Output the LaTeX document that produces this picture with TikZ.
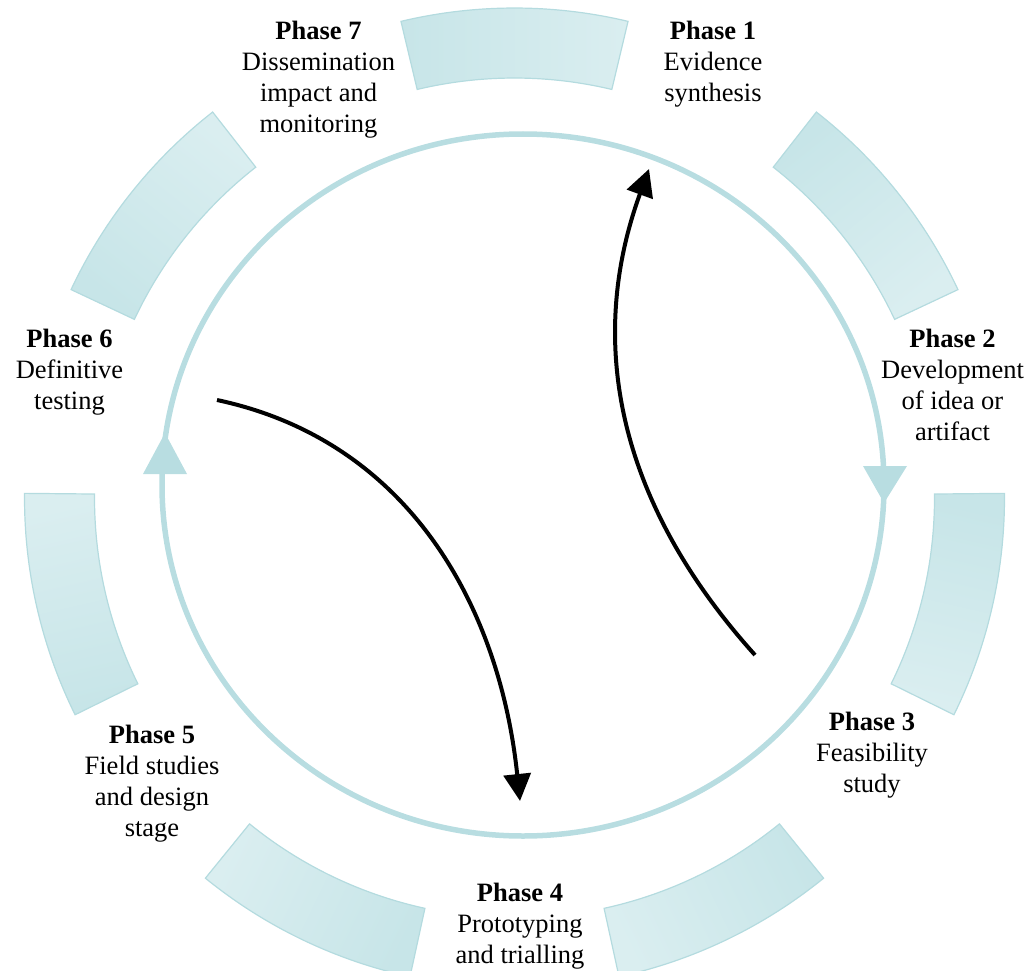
\documentclass[tikz,border=0pt]{standalone}
\usepackage{fontspec}
\setmainfont{Liberation Serif}
\usetikzlibrary{arrows.meta,calc}
\definecolor{ringc}{RGB}{184,221,225}
\definecolor{segdark}{RGB}{199,229,232}
\definecolor{seglight}{RGB}{218,238,240}
\definecolor{segline}{RGB}{180,219,223}
\begin{document}
\begin{tikzpicture}[x=1pt,y=1pt,
  ring/.style={draw=ringc,line width=5.5pt},
  ringtip/.style={fill=ringc},
  seg/.style={draw=segline,line width=1.2pt},
  flow/.style={draw=black,line width=4pt,-{Triangle[width=27pt,length=27pt]}},
  lab/.style={font=\fontsize{26.5}{31}\selectfont,align=center,anchor=north,inner sep=0pt}]
\useasboundingbox (0,0) rectangle (1030,-971);
\clip (0,0) rectangle (1030,-971);
\coordinate (S) at (514.5,-498);
\coordinate (C) at (523,-485);
% segments
\foreach \a in {90,38.571,-12.857,-64.286,-115.714,-167.143,141.429} {
  \path[seg, top color=segdark, bottom color=seglight, shading angle=\a]
    ($(S)+(\a+13.4:490pt)$) arc[start angle=\a+13.4, end angle=\a-13.4, radius=490pt]
    -- ($(S)+(\a-13.4:420pt)$) arc[start angle=\a-13.4, end angle=\a+13.4, radius=420pt] -- cycle;
}
% ring with two arrowheads
\draw[ring] (C) ellipse[x radius=361pt,y radius=351pt];
\fill[ringtip] (863,-466) -- (907,-466) -- (884,-503) -- cycle;
\fill[ringtip] (143,-474) -- (187,-474) -- (165,-433) -- cycle;
% black flow arrows
\coordinate (r0) at (755,-655);
\coordinate (r1) at (649,-169);
\draw[flow] (r0) to[out=132,in=-110,looseness=1.0] (r1);
\coordinate (l0) at (217,-400);
\coordinate (l1) at (520,-801);
\draw[flow] (l0) to[out=-12,in=96] (l1);
% labels
\node[lab] (p1) at (713,-21) {\textbf{Phase 1}\\Evidence\\synthesis};
\node[lab] (p2) at (952.5,-329) {\textbf{Phase 2}\\Development\\of idea or\\artifact};
\node[lab] (p3) at (872,-712) {\textbf{Phase 3}\\Feasibility\\study};
\node[lab] (p4) at (520,-883) {\textbf{Phase 4}\\Prototyping\\and trialling};
\node[lab] (p5) at (152,-725) {\textbf{Phase 5}\\Field studies\\and design\\stage};
\node[lab] (p6) at (69.5,-329) {\textbf{Phase 6}\\Definitive\\testing};
\node[lab] (p7) at (318.5,-21) {\textbf{Phase 7}\\Dissemination\\impact and\\monitoring};
\end{tikzpicture}
\end{document}
